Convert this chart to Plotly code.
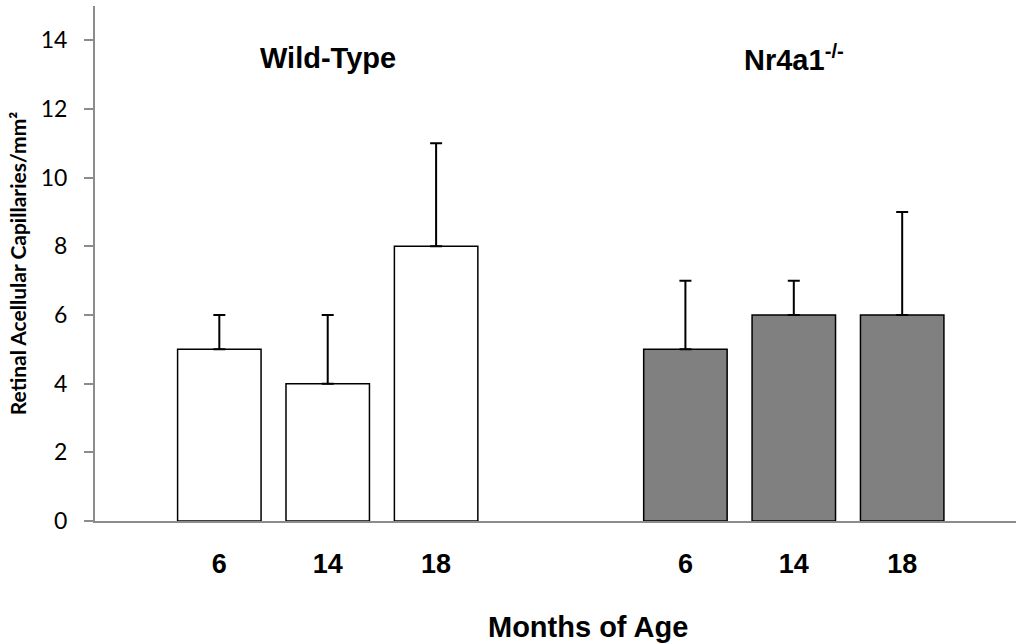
import plotly.graph_objects as go

ages = ["6", "14", "18"]
wt_values = [5, 4, 8]
wt_err = [1, 2, 3]
ko_values = [5, 6, 6]
ko_err = [2, 1, 3]
group_names = ["Wild-Type", "Nr4a1<sup>-/-</sup>"]

# layout helpers (positions, not data)
offset = 4.3
wt_x = [i + 1 for i in range(len(ages))]
ko_x = [x + offset for x in wt_x]

fig = go.Figure()
fig.add_trace(go.Bar(
    x=wt_x, y=wt_values, width=0.77,
    marker=dict(color="white", line=dict(color="black", width=1.5)),
    error_y=dict(type="data", array=wt_err, symmetric=False, arrayminus=[0]*3,
                 color="black", thickness=2, width=6),
    showlegend=False,
))
fig.add_trace(go.Bar(
    x=ko_x, y=ko_values, width=0.77,
    marker=dict(color="#808080", line=dict(color="black", width=1.5)),
    error_y=dict(type="data", array=ko_err, symmetric=False, arrayminus=[0]*3,
                 color="black", thickness=2, width=6),
    showlegend=False,
))

fig.update_layout(
    width=1017, height=644,
    margin=dict(l=95, r=1, t=6, b=123),
    plot_bgcolor="white", paper_bgcolor="white",
    xaxis=dict(
        range=[-0.147, 8.35], tickvals=wt_x + ko_x, ticktext=ages + ages,
        showgrid=False, zeroline=False, showline=True, linecolor="#8c8c8c", linewidth=2,
        ticks="", tickfont=dict(family="Liberation Sans", size=27, color="black", weight="bold"),
        ticklabelstandoff=18,
    ),
    yaxis=dict(
        range=[0, 15], tickvals=list(range(0, 15, 2)),
        showgrid=False, zeroline=False, showline=True, linecolor="#8c8c8c", linewidth=2,
        ticks="outside", ticklen=9, tickcolor="#8c8c8c", tickwidth=1.5,
        tickfont=dict(family="Lato", size=23, color="black"),
        ticklabelstandoff=12,
        title=dict(text="Retinal Acellular Capillaries/mm²",
                   font=dict(family="Lato", size=21, color="black", weight="bold"),
                   standoff=8),
    ),
    annotations=[
        dict(x=sum(wt_x)/3, y=13.5, xref="x", yref="y", text="<b>" + group_names[0] + "</b>",
             showarrow=False, font=dict(family="Liberation Sans", size=29, color="black")),
        dict(x=sum(ko_x)/3, y=13.5, xref="x", yref="y", text="<b>" + group_names[1] + "</b>",
             showarrow=False, font=dict(family="Liberation Sans", size=29, color="black")),
        dict(x=0.535, y=-(627 - 521) / 515, xref="paper", yref="paper", yanchor="middle",
             text="<b>Months of Age</b>",
             showarrow=False, font=dict(family="Liberation Sans", size=29, color="black")),
    ],
)

fig.write_html("out.html")
